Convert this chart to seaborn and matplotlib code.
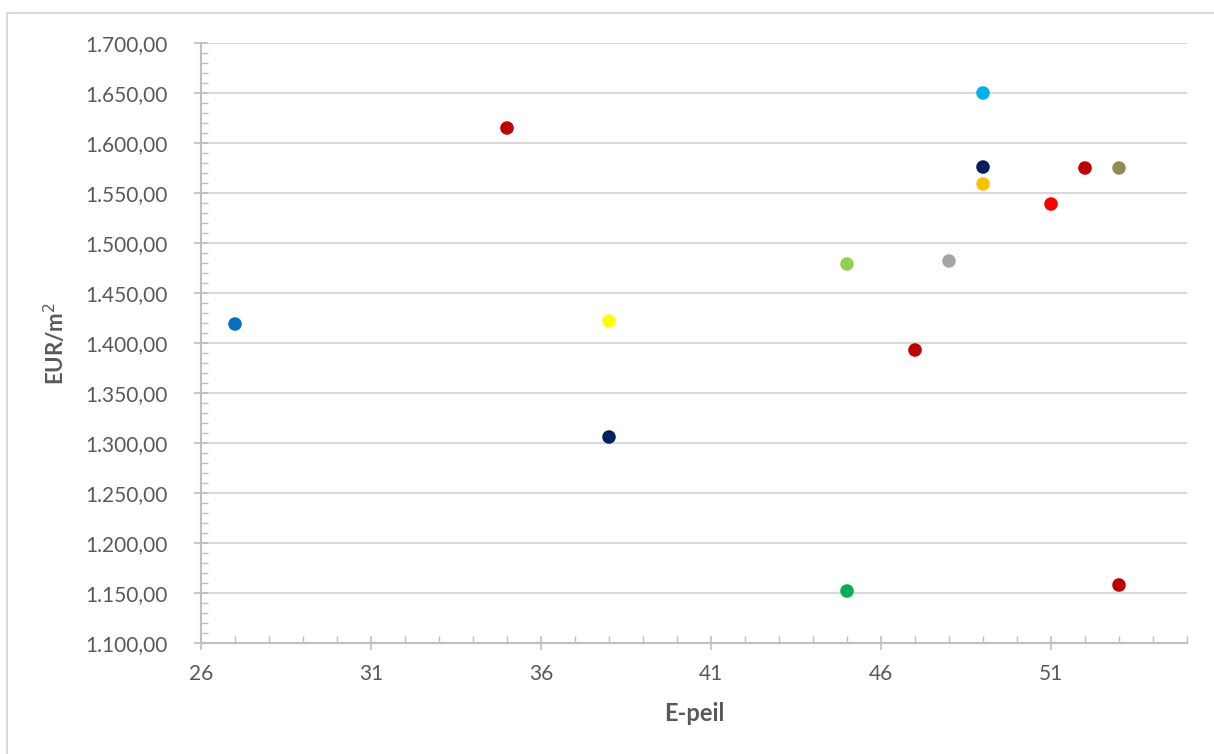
import matplotlib
matplotlib.use("Agg")
import matplotlib.pyplot as plt
import matplotlib.ticker as mticker
import seaborn as sns
import pandas as pd

# E-peil vs cost per m2, one colour per project
e_peil = [27, 35, 38, 38, 45, 45, 47, 48, 49, 49, 49, 51, 52, 53, 53]
eur_m2 = [1419, 1615, 1422, 1306, 1479, 1152, 1393, 1482, 1650, 1576, 1559, 1539, 1575, 1575, 1158]
colours = ["#0070C0", "#C00000", "#FFFF00", "#002060", "#92D050", "#00B050", "#C00000",
           "#A5A5A5", "#00B0F0", "#002060", "#FFC000", "#FF0000", "#C00000", "#948A54", "#C00000"]

df = pd.DataFrame({"E-peil": e_peil, "EUR": eur_m2, "id": [str(i) for i in range(len(e_peil))]})
pal = dict(zip(df["id"], colours))

sns.set_style("white")
plt.rcParams["font.family"] = ["Lato", "DejaVu Sans"]

fig = plt.figure(figsize=(12.14, 7.54), dpi=100)
ax = fig.add_axes([201/1214, 111/754, 986/1214, 600/754])

# outer chart frame
fig.patches.append(plt.Rectangle((7/1214, -0.1), 1.2, (754-13)/754 + 0.1, transform=fig.transFigure,
                                 fill=False, edgecolor="#D9D9D9", linewidth=1.5))

sns.scatterplot(data=df, x="E-peil", y="EUR", hue="id", palette=pal, s=95,
                edgecolor="none", legend=False, ax=ax, zorder=3)

ax.set_xlim(26, 55)
ax.set_ylim(1100, 1700)
ax.xaxis.set_major_locator(mticker.FixedLocator(range(26, 56, 5)))
ax.xaxis.set_minor_locator(mticker.MultipleLocator(1))
ax.yaxis.set_major_locator(mticker.MultipleLocator(50))
ax.yaxis.set_minor_locator(mticker.MultipleLocator(10))

def nl_fmt(v, pos):
    s = f"{v:,.2f}"
    return s.replace(",", "X").replace(".", ",").replace("X", ".")

ax.yaxis.set_major_formatter(mticker.FuncFormatter(nl_fmt))

ax.grid(axis="y", color="#D9D9D9", linewidth=1.5, zorder=0)
ax.grid(axis="x", visible=False)
for side in ["top", "right"]:
    ax.spines[side].set_visible(False)
for side in ["left", "bottom"]:
    ax.spines[side].set_color("#BFBFBF")
    ax.spines[side].set_linewidth(1.5)

ax.tick_params(axis="x", which="both", bottom=True)
ax.tick_params(axis="y", which="both", left=True)
ax.tick_params(which="major", direction="inout", length=10, width=1.2, color="#BFBFBF",
               labelsize=15, labelcolor="#595959")
ax.tick_params(axis="x", which="major", pad=10)
ax.tick_params(axis="y", which="major", pad=19)
ax.tick_params(which="minor", direction="in", length=5, width=1, color="#BFBFBF")

ax.set_xlabel("E-peil", fontsize=17, fontweight="bold", color="#595959", labelpad=13)
ax.set_ylabel("EUR/m$^2$", fontsize=16, fontweight="bold", color="#595959", labelpad=12)

fig.savefig("out.png", dpi=100)
